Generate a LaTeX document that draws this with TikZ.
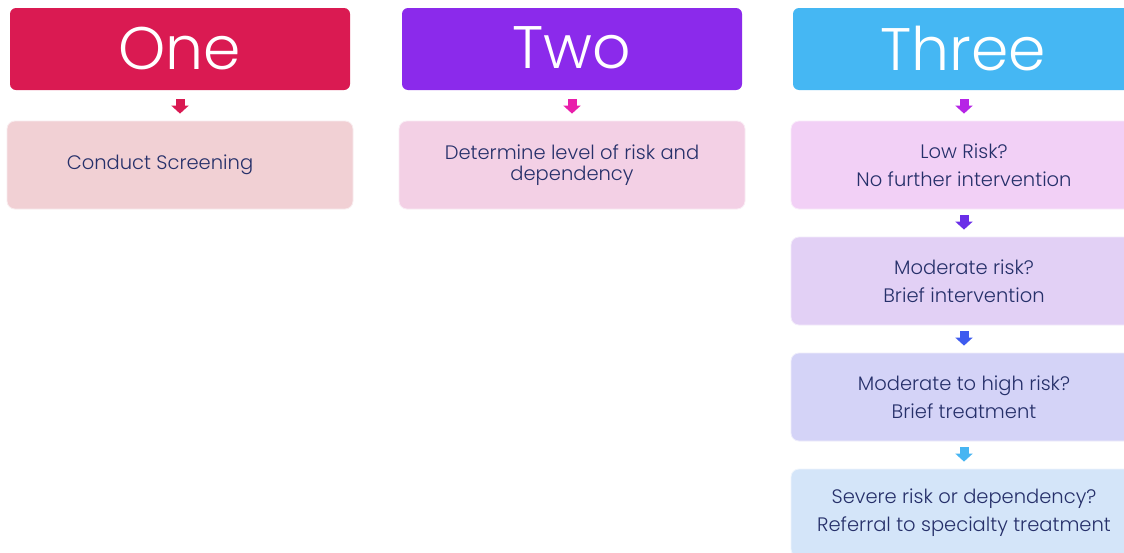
\documentclass[tikz,border=0pt]{standalone}
\usepackage{fontspec}
\setmainfont{Poppins Light}
\newfontfamily\headfont{Poppins Light}
\usetikzlibrary{arrows.meta,calc}
\definecolor{cOne}{HTML}{DA1A52}
\definecolor{cTwo}{HTML}{8B2AEB}
\definecolor{cThree}{HTML}{45B7F3}
\definecolor{aOne}{HTML}{D91A52}
\definecolor{aTwo}{HTML}{E91EAB}
\definecolor{aThreeA}{HTML}{B624E6}
\definecolor{aThreeB}{HTML}{6A2EE8}
\definecolor{aThreeC}{HTML}{3E5BEF}
\definecolor{aThreeD}{HTML}{47B5F2}
\definecolor{fOne}{HTML}{F1D0D4}
\definecolor{fTwo}{HTML}{F3D0E5}
\definecolor{fL1}{HTML}{F2D0F6}
\definecolor{fL2}{HTML}{E2D0F5}
\definecolor{fL3}{HTML}{D4D3F7}
\definecolor{fL4}{HTML}{D4E5F9}
\definecolor{txt}{HTML}{26306A}
\begin{document}
\begin{tikzpicture}[x=1pt,y=-1pt,
  header/.style={rounded corners=6pt, minimum width=340pt, minimum height=82pt,
    inner sep=0pt, text=white, font=\headfont\fontsize{60}{60}\selectfont},
  stepbox/.style={rounded corners=8pt, minimum width=346pt, minimum height=88pt,
    inner sep=0pt, text=txt, align=center, draw=white!60!#1, line width=0.8pt, fill=#1},
  bodyA/.style={font=\fontsize{19.5}{21}\selectfont},
  bodyB/.style={font=\fontsize{19.5}{28}\selectfont},
  blockarrow/.style={draw=#1, line width=9pt, -{Triangle[width=17pt,length=8pt,fill=#1]}},
]
\useasboundingbox (0,0) rectangle (1124,552);
\clip (0,0) rectangle (1124,552);
\fill[white] (0,0) rectangle (1124,552);

% column one
\node[header, fill=cOne] (h1) at (180,49) {\raisebox{2pt}{One}};
\node[stepbox=fOne, bodyA] (b1) at (180,165) {\raisebox{1pt}{Conduct Screening}\hspace*{40pt}};
\draw[blockarrow=aOne] ($(h1.south)+(0,9)$) -- ($(b1.north)+(0,-7)$);

% column two
\node[header, fill=cTwo] (h2) at (572,49) {\raisebox{2pt}{Two}};
\node[stepbox=fTwo, bodyA] (b2) at (572,165) {Determine level of risk and\\dependency};
\draw[blockarrow=aTwo] ($(h2.south)+(0,9)$) -- ($(b2.north)+(0,-7)$);

% column three
\node[header, fill=cThree] (h3) at (963,49) {\raisebox{2pt}{Three}};
\node[stepbox=fL1, bodyB] (l1) at (964,165) {Low Risk?\\No further intervention};
\node[stepbox=fL2, bodyB] (l2) at (964,281) {Moderate risk?\\Brief intervention};
\node[stepbox=fL3, bodyB] (l3) at (964,397) {Moderate to high risk?\\Brief treatment};
\node[stepbox=fL4, bodyB] (l4) at (964,513) {Severe risk or dependency?\\Referral to specialty treatment};
\draw[blockarrow=aThreeA] ($(h3.south)+(1,9)$) -- ($(l1.north)+(0,-7)$);
\draw[blockarrow=aThreeB] ($(l1.south)+(0,6)$) -- ($(l2.north)+(0,-7)$);
\draw[blockarrow=aThreeC] ($(l2.south)+(0,6)$) -- ($(l3.north)+(0,-7)$);
\draw[blockarrow=aThreeD] ($(l3.south)+(0,6)$) -- ($(l4.north)+(0,-7)$);
\end{tikzpicture}
\end{document}
